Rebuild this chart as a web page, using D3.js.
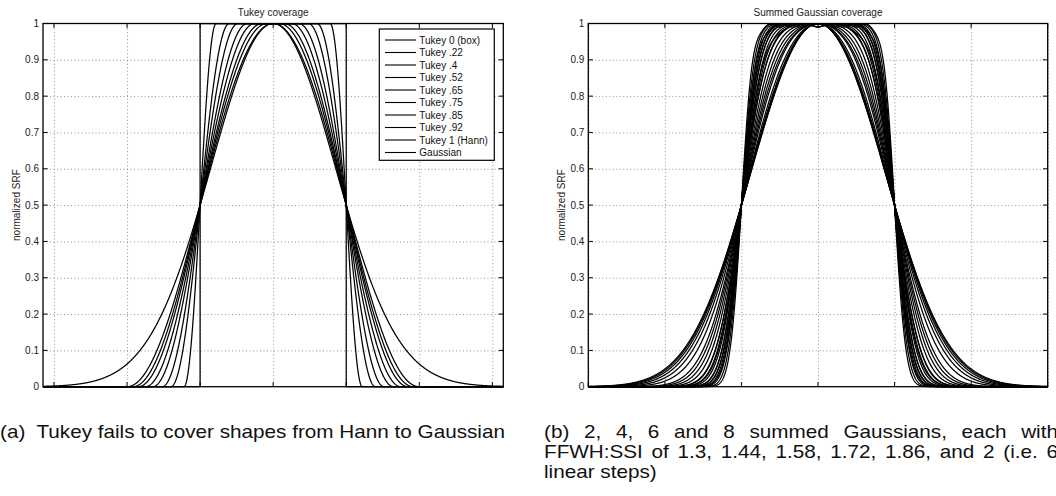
<!DOCTYPE html>
<html>
<head>
<meta charset="utf-8">
<script src="https://cdn.jsdelivr.net/npm/d3@7"></script>
<style>
  html,body{margin:0;padding:0;background:#fff;}
  svg{display:block;font-family:"Liberation Sans",Arial,Helvetica,sans-serif;}
  .cap{white-space:pre;}
</style>
</head>
<body>
<div id="chart"></div>
<script>
// parameters
const tukeyAlphas=[0,.22,.4,.52,.65,.75,.85,.92,1];
const legendLabels=["Tukey 0 (box)","Tukey .22","Tukey .4","Tukey .52","Tukey .65","Tukey .75","Tukey .85","Tukey .92","Tukey 1 (Hann)","Gaussian"];
const gaussCounts=[2,4,6,8];
const fwhmRatios=[1.3,1.44,1.58,1.72,1.86,2];
const yTicks=[0,.1,.2,.3,.4,.5,.6,.7,.8,.9,1];
const xTicks=[-3,-2,-1,0,1,2,3];
const titles=["Tukey coverage","Summed Gaussian coverage"];
const captionA="(a)  Tukey fails to cover shapes from Hann to Gaussian";
const captionB=["(b) 2, 4, 6 and 8 summed Gaussians, each with","FFWH:SSI of 1.3, 1.44, 1.58, 1.72, 1.86, and 2 (i.e. 6","linear steps)"];

(function(){
  const W=1056,H=496;
  const svg=d3.select("#chart").append("svg").attr("width",W).attr("height",H);
  const top=23.5,bot=386.7;
  const panels=[
    {x0:43,x1:503.3,dom:[-3.15,3.15]},
    {x0:588.3,x1:1047.7,dom:[-3,3]}
  ];

  // window shapes
  const tukey=a=>x=>{const u=Math.abs(x);
    if(a===0) return u<1?1:(u===1?.5:0);
    if(u<=1-a) return 1; if(u>=1+a) return 0;
    return .5*(1+Math.cos(Math.PI*(u-(1-a))/(2*a)));};
  const gauss=x=>Math.exp(-x*x*Math.LN2);
  function summed(n,r){
    const raw=(s,x)=>{let v=0;const w=r*s;
      for(let k=0;k<n;k++){const c=(k-(n-1)/2)*s;v+=Math.exp(-4*Math.LN2*(x-c)*(x-c)/(w*w));}return v;};
    const peak=s=>{let m=0;for(let i=0;i<=400;i++){m=Math.max(m,raw(s,-1+i/200));}return m;};
    let lo=.02,hi=3;
    for(let it=0;it<60;it++){const s=(lo+hi)/2;if(raw(s,1)/peak(s)<.5) lo=s; else hi=s;}
    const s=(lo+hi)/2,pk=peak(s);
    return x=>raw(s,x)/pk;
  }

  function sample(f,dom){const n=1600,pts=[];
    for(let i=0;i<=n;i++){const x=dom[0]+(dom[1]-dom[0])*i/n;pts.push([x,f(x)]);}
    return pts;}

  const curves=[
    tukeyAlphas.map(a=>tukey(a)).concat([gauss]),
    [].concat(...gaussCounts.map(n=>fwhmRatios.map(r=>summed(n,r))))
  ];
  // box edges drawn exactly vertical
  function boxPts(dom){return [[dom[0],0],[-1,0],[-1,1],[1,1],[1,0],[dom[1],0]];}

  panels.forEach((p,pi)=>{
    const x=d3.scaleLinear().domain(p.dom).range([p.x0,p.x1]);
    const y=d3.scaleLinear().domain([0,1]).range([bot,top]);
    const g=svg.append("g");
    const dotted=s=>s.selectAll(".tick line").attr("stroke","#777").attr("stroke-width",.8).attr("stroke-dasharray","1,2.5");
    g.append("g").attr("transform",`translate(0,${bot})`)
      .call(d3.axisBottom(x).tickValues(xTicks).tickSize(-(bot-top)).tickFormat(""))
      .call(s=>s.select(".domain").remove()).call(dotted);
    g.append("g").attr("transform",`translate(${p.x0},0)`)
      .call(d3.axisLeft(y).tickValues(yTicks.slice(1,-1)).tickSize(-(p.x1-p.x0)).tickFormat(""))
      .call(s=>s.select(".domain").remove()).call(dotted);

    const line=d3.line().x(d=>x(d[0])).y(d=>y(d[1]));
    g.append("g").selectAll("path").data(curves[pi]).join("path")
      .attr("fill","none").attr("stroke","#000").attr("stroke-width",1.25)
      .attr("d",(f,i)=>line(pi===0&&i===0?boxPts(p.dom):sample(f,p.dom)));

    // ticks inward on all sides
    const tk=g.append("g").attr("stroke","#000").attr("stroke-width",1);
    xTicks.forEach(v=>{const X=x(v);
      tk.append("line").attr("x1",X).attr("x2",X).attr("y1",bot).attr("y2",bot-4.6);
      tk.append("line").attr("x1",X).attr("x2",X).attr("y1",top).attr("y2",top+4.6);});
    yTicks.forEach(v=>{const Y=y(v);
      tk.append("line").attr("x1",p.x0).attr("x2",p.x0+4.6).attr("y1",Y).attr("y2",Y);
      tk.append("line").attr("x1",p.x1).attr("x2",p.x1-4.6).attr("y1",Y).attr("y2",Y);});
    g.append("rect").attr("x",p.x0).attr("y",top).attr("width",p.x1-p.x0).attr("height",bot-top)
      .attr("fill","none").attr("stroke","#000").attr("stroke-width",1.3);

    g.selectAll(".ylab").data(yTicks).join("text").attr("class","ylab")
      .attr("x",p.x0-4).attr("y",d=>y(d)).attr("dy","0.35em").attr("text-anchor","end")
      .attr("font-size",10).attr("fill","#222").text(d=>d);
    g.append("text").attr("x",(p.x0+p.x1)/2).attr("y",15.5).attr("text-anchor","middle")
      .attr("font-size",10).attr("fill","#222").text(titles[pi]);
    g.append("text").attr("transform",`translate(${p.x0-23.5},${(top+bot)/2}) rotate(-90)`)
      .attr("text-anchor","middle").attr("font-size",10).attr("fill","#222").text("normalized SRF");

    if(pi===0){
      const lg=g.append("g");
      lg.append("rect").attr("x",379.3).attr("y",29).attr("width",115).attr("height",131.3)
        .attr("fill","#fff").attr("stroke","#000").attr("stroke-width",1.2);
      legendLabels.forEach((t,i)=>{const Y=40+i*12.5;
        lg.append("line").attr("x1",385).attr("x2",416).attr("y1",Y).attr("y2",Y).attr("stroke","#000").attr("stroke-width",1.1);
        lg.append("text").attr("x",419.3).attr("y",Y).attr("dy","0.35em").attr("font-size",10).attr("fill","#111").text(t);});
    }
  });

  // captions (the source figure is stretched horizontally)
  const fs=17.7,sx=1.17;
  svg.append("text").attr("class","cap").attr("x",0).attr("y",438.3).attr("font-size",fs).attr("fill","#111")
    .attr("textLength",505).attr("lengthAdjust","spacingAndGlyphs").text(captionA);
  const base=[438.3,458.1,477.9],L=544,R=1058;
  captionB.forEach((ln,li)=>{
    const words=ln.split(" ");
    const ts=words.map(w=>{const t=svg.append("text").attr("y",base[li]).attr("font-size",fs).attr("fill","#111").text(w);
      const wd=t.node().getComputedTextLength()*sx;
      t.attr("textLength",wd).attr("lengthAdjust","spacingAndGlyphs");return {t,wd};});
    const gap=li===captionB.length-1?fs*.278*sx:(R-L-d3.sum(ts,d=>d.wd))/(words.length-1);
    let xx=L;ts.forEach(d=>{d.t.attr("x",xx);xx+=d.wd+gap;});
  });
})();
</script>
</body>
</html>
